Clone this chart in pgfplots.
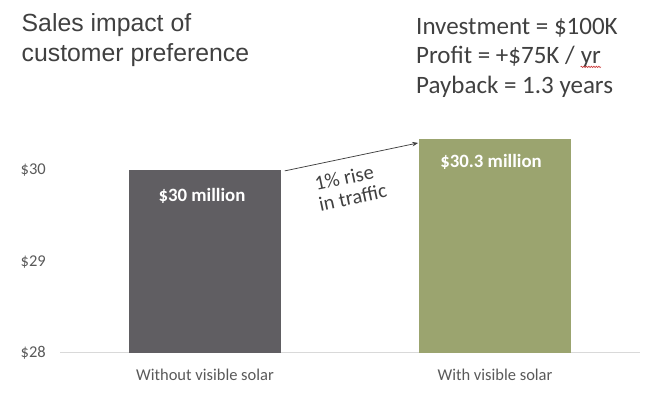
\documentclass[border=0pt]{standalone}
\usepackage{pgfplots}
\pgfplotsset{compat=1.18}
\usepackage{fontspec}
\setmainfont{Carlito}
\newfontfamily\arialfont{Liberation Sans}
\usetikzlibrary{decorations.pathmorphing,arrows.meta}
\definecolor{barA}{RGB}{96,94,98}
\definecolor{barB}{RGB}{155,164,111}
\definecolor{txt}{RGB}{64,64,64}
\definecolor{tickc}{RGB}{89,89,89}
\definecolor{basec}{RGB}{217,217,217}
\definecolor{squig}{RGB}{205,60,60}
\begin{document}
\begin{tikzpicture}
\useasboundingbox (0,0) rectangle (664bp,397bp);
\begin{axis}[
  at={(60bp,44.3bp)}, anchor=south west,
  scale only axis, width=580bp, height=228.4bp,
  xmin=-0.5, xmax=1.5, ymin=28, ymax=30.5,
  ybar, bar width=0.525, bar shift=0pt,
  axis x line*=bottom, axis y line*=left,
  x axis line style={draw=basec, line width=0.8bp, -},
  y axis line style={draw=none},
  major tick length=0pt,
  xtick={0,1}, xticklabels={Without visible solar, With visible solar},
  ytick={28,29,30}, yticklabels={\$28,\$29,\$30},
  xticklabel style={anchor=base, yshift=-27.3bp, inner sep=0pt, font=\fontsize{16.5bp}{19bp}\selectfont, text=tickc},
  yticklabel style={anchor=base east, xshift=-14bp, yshift=-5bp, inner sep=0pt, font=\fontsize{16.5bp}{19bp}\selectfont, text=tickc},
  point meta=explicit symbolic,
  nodes near coords,
  every node near coord/.append style={anchor=center, text=white, font=\bfseries\fontsize{18.8bp}{22bp}\selectfont},
]
\addplot[fill=barA, draw=none, every node near coord/.append style={anchor=center, yshift=-26bp, xshift=-3bp}]
  coordinates {(0,30) [\$30 million]};
\addplot[fill=barB, draw=none, every node near coord/.append style={anchor=center, yshift=-23bp, xshift=-4bp}]
  coordinates {(1,30.34) [\$30.3 million]};
\draw[txt, line width=0.75bp, -{Stealth[length=6bp,width=4.5bp]}]
  (axis cs:0.275,29.99) -- (axis cs:0.735,30.296);
\node[text=txt, rotate=12, align=left, inner sep=0pt, font=\fontsize{20.5bp}{21bp}\selectfont]
  at (axis cs:0.502,29.814) {1\% rise\\in traffic};
\end{axis}
\node[anchor=base west, inner sep=0pt, text=txt, font=\arialfont\fontsize{24.8bp}{30bp}\selectfont] at (21.5bp,365.3bp) {Sales impact of};
\node[anchor=base west, inner sep=0pt, text=txt, font=\arialfont\fontsize{24.8bp}{30bp}\selectfont] at (21.5bp,335.3bp) {customer preference};
\node[anchor=base west, inner sep=0pt, text=txt, font=\fontsize{25bp}{30bp}\selectfont] at (416bp,362.7bp) {Investment = \$100K};
\node[anchor=base west, inner sep=0pt, text=txt, font=\fontsize{25bp}{30bp}\selectfont] (p2) at (416bp,333.5bp) {Profit = +\$75K /};
\node[anchor=base west, inner sep=0pt, text=txt, font=\fontsize{25bp}{30bp}\selectfont, xshift=5.65bp] (yr) at (p2.base east) {yr};
\draw[squig, line width=0.6bp, decorate, decoration={snake, amplitude=0.7bp, segment length=2.5bp}]
  ([yshift=-3.4bp]yr.base west) -- ([yshift=-3.4bp]yr.base east);
\node[anchor=base west, inner sep=0pt, text=txt, font=\fontsize{25bp}{30bp}\selectfont] at (416bp,303.5bp) {Payback = 1.3 years};
\end{tikzpicture}
\end{document}
